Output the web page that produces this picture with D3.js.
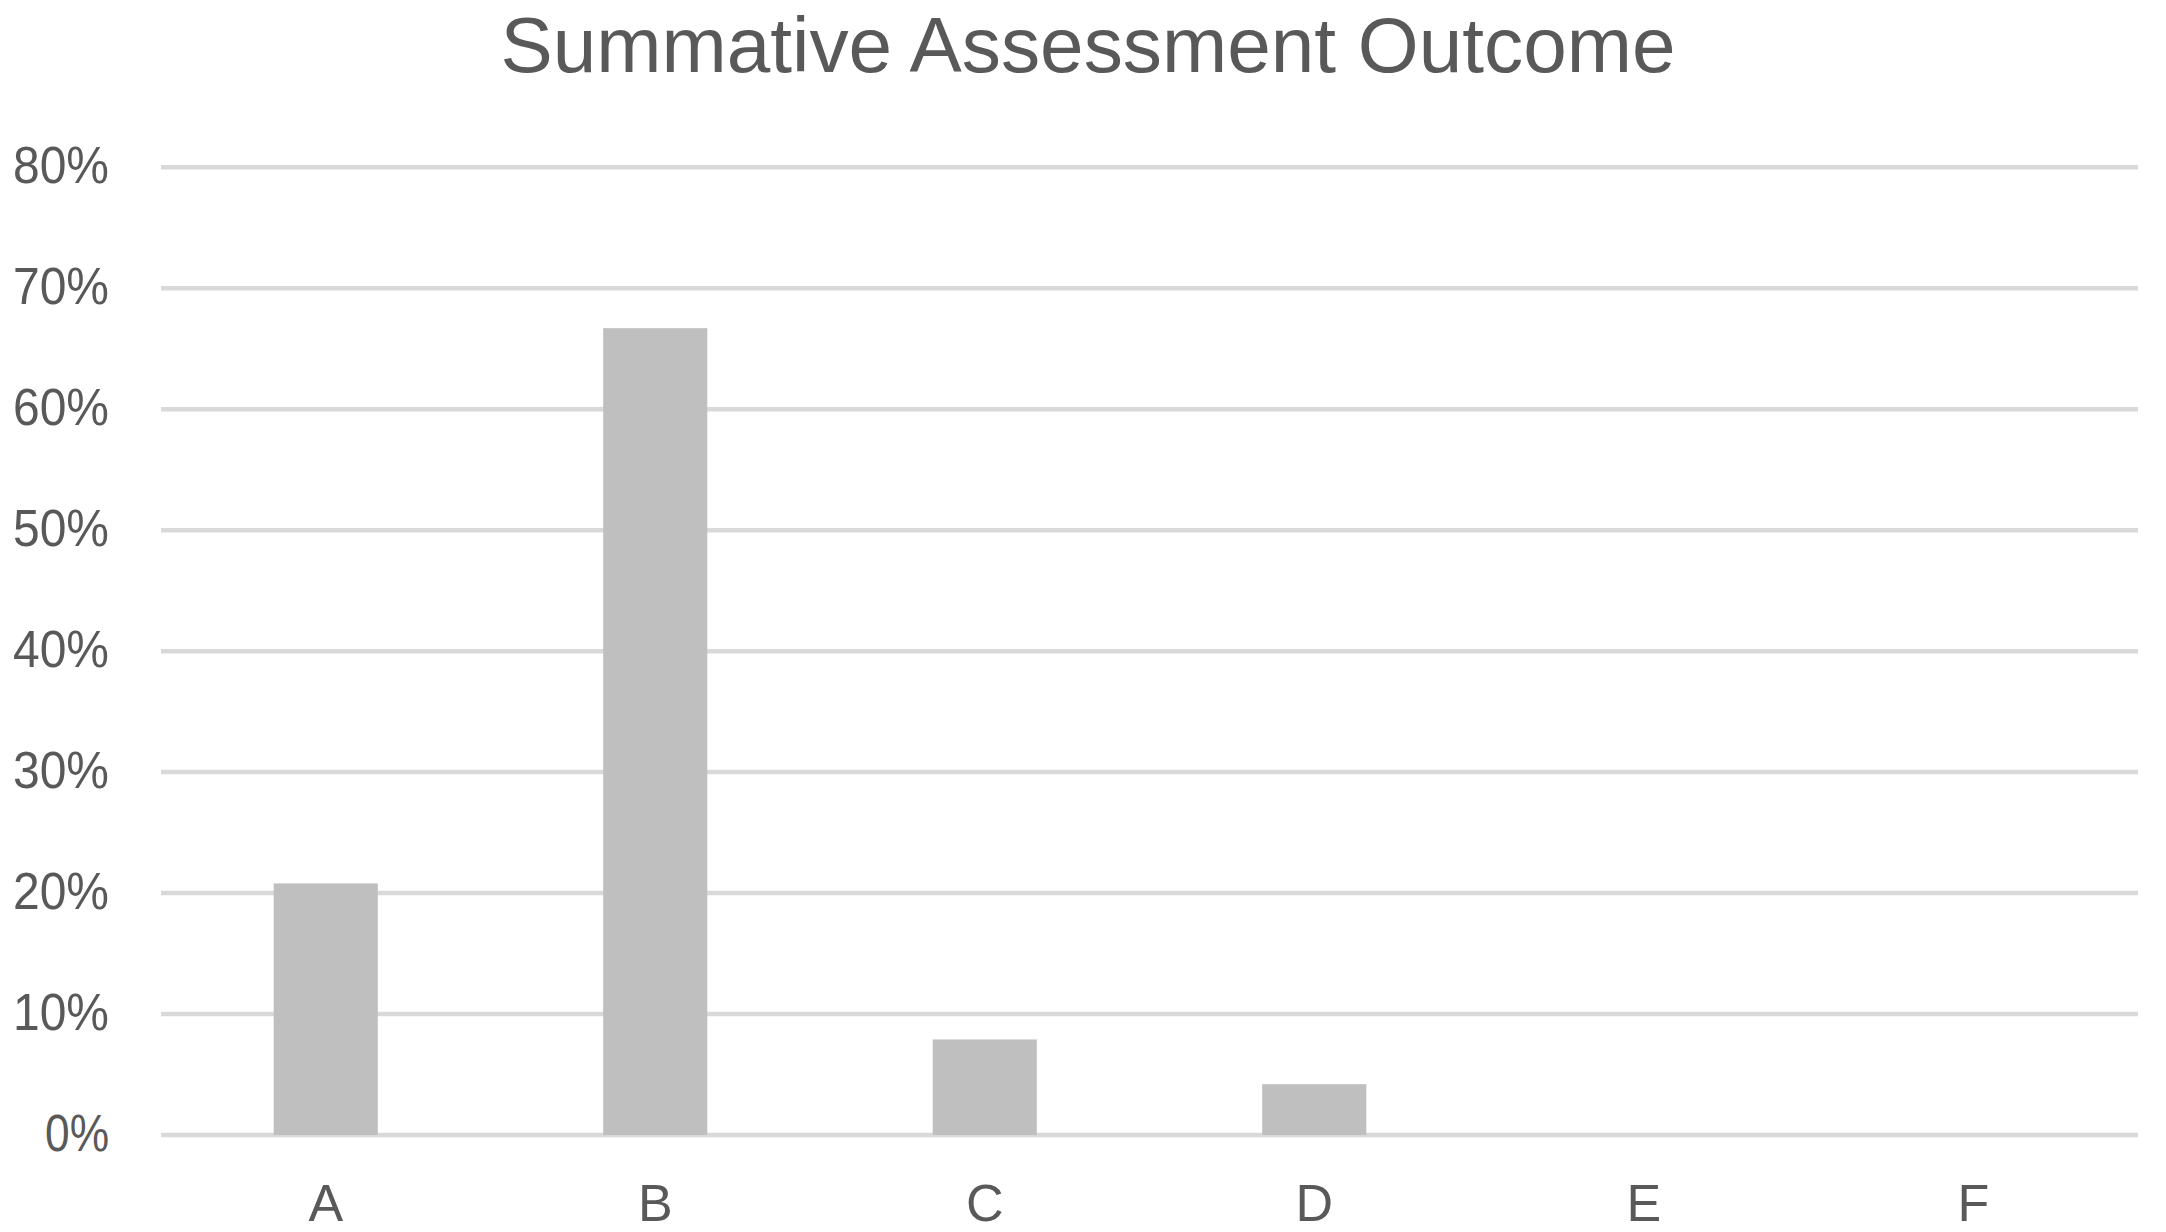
<!DOCTYPE html>
<html>
<head>
<meta charset="utf-8">
<script src="https://cdn.jsdelivr.net/npm/d3@7"></script>
<style>
  html, body { margin: 0; padding: 0; background: #ffffff; }
  svg { display: block; }
</style>
</head>
<body>
<script>
const title = "Summative Assessment Outcome";
const categories = ["A", "B", "C", "D", "E", "F"];
const values = [0.208, 0.667, 0.079, 0.042, 0, 0];
const yTicks = [0, 0.1, 0.2, 0.3, 0.4, 0.5, 0.6, 0.7, 0.8];

const W = 2166, H = 1232;
const svg = d3.select("body").append("svg").attr("width", W).attr("height", H);

const x = d3.scaleBand().domain(categories).range([161, 2138])
  .paddingInner(0.684).paddingOuter(0.342);
const y = d3.scaleLinear().domain([0, 0.8]).range([1135, 167.3]);

const font = "'Liberation Sans', Arial, sans-serif";
const textColor = "#595959";

// gridlines
svg.append("g").selectAll("line").data(yTicks).join("line")
  .attr("x1", 161).attr("x2", 2138)
  .attr("y1", d => y(d)).attr("y2", d => y(d))
  .attr("stroke", "#d9d9d9").attr("stroke-width", 4.5);

// y axis labels
const yAxis = d3.axisLeft(y).tickValues(yTicks).tickFormat(d3.format(".0%")).tickSize(0).tickPadding(0);
const yg = svg.append("g").attr("transform", "translate(109,0)").call(yAxis);
yg.select(".domain").remove();
yg.selectAll("text")
  .attr("font-family", font).attr("font-size", 52).attr("fill", textColor)
  .attr("dy", "0.30em")
  .attr("textLength", d => d === 0 ? 64 : 96).attr("lengthAdjust", "spacingAndGlyphs");

// bars
svg.append("g").selectAll("rect").data(values).join("rect")
  .attr("x", (d, i) => x(categories[i]))
  .attr("width", x.bandwidth())
  .attr("y", d => y(d))
  .attr("height", d => y(0) - y(d))
  .attr("fill", "#bfbfbf");

// x axis labels
const xAxis = d3.axisBottom(x).tickSize(0).tickPadding(0);
const xg = svg.append("g").attr("transform", "translate(0,1221)").call(xAxis);
xg.select(".domain").remove();
xg.selectAll("text")
  .attr("font-family", font).attr("font-size", 52).attr("fill", textColor)
  .attr("dy", 0).attr("y", 0);

// title
svg.append("text")
  .attr("x", 1088).attr("y", 72)
  .attr("text-anchor", "middle")
  .attr("font-family", font).attr("font-size", 78).attr("fill", textColor)
  .attr("textLength", 1175).attr("lengthAdjust", "spacingAndGlyphs")
  .text(title);
</script>
</body>
</html>
